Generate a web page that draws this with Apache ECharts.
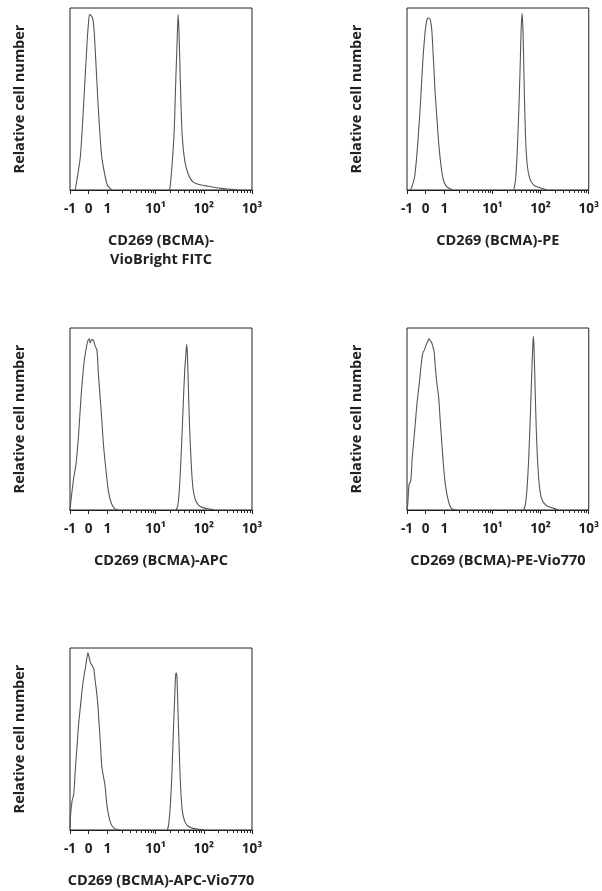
<!DOCTYPE html>
<html>
<head>
<meta charset="utf-8">
<script src="https://cdn.jsdelivr.net/npm/echarts@6/dist/echarts.min.js"></script>
<style>
  html, body { margin: 0; background: #fff; }
  #chart { width: 602px; height: 891px; }
</style>
</head>
<body>
<div id="chart"></div>
<script>
// [intensity, % of max count]
const fitcNeg = [[-0.72,0],[-0.45,18],[-0.31,40],[-0.19,62],[-0.08,82],[0,93],[0.05,96.4],[0.14,95.8],[0.22,94],[0.29,87.6],[0.38,71.2],[0.49,49.3],[0.6,31],[0.7,18.2],[0.85,9.1],[1.0,2.7],[1.23,0]];
const fitcPos = [[19.7,0],[21.3,9.1],[24.2,31],[26.1,58.4],[28,82],[29.3,96.4],[30.7,85.8],[32.7,58.4],[35.5,31],[40.1,16.4],[47.1,9.1],[59.8,4.5],[88.7,2.7],[142,1.8],[229,0.9],[368,0.4],[508,0]];
const peNeg = [[-0.8,0],[-0.59,7.3],[-0.41,27.4],[-0.27,49.3],[-0.15,71.2],[-0.02,87.6],[0.08,94],[0.17,94.5],[0.26,93],[0.33,87.6],[0.42,71.2],[0.51,53],[0.6,40.1],[0.7,25.5],[0.83,12.8],[0.95,5.5],[1.12,1.8],[1.49,0]];
const pePos = [[27.8,0],[30.1,5.5],[32.6,20],[35.3,43.8],[37.6,67.5],[39.4,87.6],[41.3,97.1],[43.3,85.8],[45.5,58.4],[48.4,31],[52.4,14.6],[59.5,6.4],[71.9,2.7],[91.2,1.5],[135.5,0]];
const apcNeg = [[-1,0],[-0.93,6.8],[-0.8,17.7],[-0.68,25],[-0.54,41.5],[-0.4,63.4],[-0.26,79.9],[-0.13,89],[-0.04,93.1],[0.03,94.1],[0.08,91.8],[0.17,93.6],[0.26,93.1],[0.35,89.9],[0.44,88.1],[0.52,74.4],[0.67,54.3],[0.79,36],[0.93,21.4],[1.05,10.4],[1.2,4],[1.4,0.9],[1.69,0]];
const apcPos = [[27,0],[29.2,3.1],[31.6,14.1],[34.2,32.4],[37,54.3],[40.1,76.2],[42.7,86.3],[44.1,90.9],[45.5,86.7],[47.7,68.9],[50.8,45.2],[55,25],[59.5,12.2],[66.5,5.9],[77.8,2.7],[95.7,1.3],[131,0.5],[166,0]];
const pe770Neg = [[-1,0],[-0.96,3.1],[-0.89,14.1],[-0.8,15.9],[-0.72,28.7],[-0.59,43.3],[-0.47,58],[-0.33,70.7],[-0.22,81.7],[-0.15,86.3],[-0.06,88.1],[0.03,90.9],[0.12,92.7],[0.17,94.1],[0.24,93],[0.31,92.3],[0.38,89.9],[0.45,87.2],[0.52,78.1],[0.61,68.9],[0.7,61.6],[0.77,50.6],[0.86,37.8],[0.95,25],[1.05,14.1],[1.17,6.8],[1.31,2.2],[1.49,0.4],[1.74,0]];
const pe770Pos = [[44.7,0],[48.4,3.1],[52.4,12.2],[56.7,28.7],[61.4,52.5],[65.4,74.4],[68.6,89],[70.8,95.4],[73.1,89],[76.6,68.9],[81.6,43.3],[88.3,23.2],[97.2,10.4],[110,4.9],[135.5,2.2],[186,0.9],[236,0]];
const apc770Neg = [[-1,0],[-0.98,6.8],[-0.89,15.9],[-0.8,19.6],[-0.72,32.4],[-0.63,45.2],[-0.54,58],[-0.45,67.1],[-0.36,76.2],[-0.27,83.5],[-0.18,89],[-0.11,93.6],[-0.04,97.3],[0.03,94.5],[0.1,91.8],[0.21,89.9],[0.28,88.1],[0.35,81.7],[0.42,76.2],[0.49,68.9],[0.56,58],[0.63,47],[0.7,35],[0.79,29.5],[0.88,24],[0.95,15.9],[1.05,8.6],[1.2,3.1],[1.4,0.9],[1.83,0]];
const apc770Pos = [[17.6,0],[18.7,3.1],[20.3,14.1],[21.9,32.4],[23.4,54.3],[24.9,72.6],[26.1,85.4],[27,86.3],[27.8,83.5],[29.2,65.3],[31.1,41.5],[33.1,23.2],[35.9,10.4],[40.1,4.9],[46.9,2.2],[59.5,0.9],[81.6,0.4],[103.5,0]];

const tickValues = [-1, 0, 1, 10, 100, 1000];
const tickLabels = ["-1", "0", "1", "10¹", "10²", "10³"];
const minorValues = [2, 3, 4, 5, 6, 7, 8, 9, 20, 30, 40, 50, 60, 70, 80, 90, 200, 300, 400, 500, 600, 700, 800, 900];
const yTitle = "Relative cell number";

// biexponential-ish display: linear from -1 to 1, log above
const K = 2.58;
const biex = v => v <= 1 ? v : 1 + K * Math.log10(v);
const X_MIN = -1, X_MAX = biex(1000);
const SIZE = 182;

const panels = [
  { left: 70,  top: 8,   title: "CD269 (BCMA)-\nVioBright FITC", neg: fitcNeg,   pos: fitcPos },
  { left: 407, top: 8,   title: "CD269 (BCMA)-PE",               neg: peNeg,     pos: pePos },
  { left: 70,  top: 328, title: "CD269 (BCMA)-APC",              neg: apcNeg,    pos: apcPos },
  { left: 407, top: 328, title: "CD269 (BCMA)-PE-Vio770",        neg: pe770Neg,  pos: pe770Pos },
  { left: 70,  top: 648, title: "CD269 (BCMA)-APC-Vio770",       neg: apc770Neg, pos: apc770Pos }
];

const FONT = "Open Sans";
const INK = "#222";
const grid = [], xAxis = [], yAxis = [], series = [];

panels.forEach((p, i) => {
  grid.push({ left: p.left, top: p.top, width: SIZE, height: SIZE,
    show: true, borderColor: INK, borderWidth: 1 });
  xAxis.push({
    type: "value", gridIndex: i, min: X_MIN, max: X_MAX, position: "bottom",
    name: p.title, nameLocation: "middle", nameGap: 41,
    nameTextStyle: { fontFamily: FONT, fontSize: 14.5, fontWeight: "bold", color: INK, lineHeight: 19 },
    axisLine: { onZero: false, lineStyle: { color: INK, width: 1 } },
    splitLine: { show: false },
    axisTick: { show: true, customValues: tickValues.map(biex), length: 4, lineStyle: { color: INK } },
    axisLabel: {
      customValues: tickValues.map(biex), margin: 12,
      fontFamily: FONT, fontSize: 13.5, fontWeight: "bold", color: INK,
      formatter: val => {
        const k = tickValues.findIndex(t => Math.abs(biex(t) - val) < 1e-6);
        return k >= 0 ? tickLabels[k] : "";
      }
    }
  });
  // minor log ticks: a top axis shifted down onto the bottom edge
  xAxis.push({
    type: "value", gridIndex: i, min: X_MIN, max: X_MAX, position: "top", offset: -SIZE,
    axisLine: { show: false, onZero: false },
    splitLine: { show: false },
    axisLabel: { show: false },
    axisTick: { show: true, inside: true, customValues: minorValues.map(biex), length: 3, lineStyle: { color: INK, width: 1 } }
  });
  yAxis.push({
    type: "value", gridIndex: i, min: 0, max: 100,
    name: yTitle, nameLocation: "middle", nameGap: 43,
    nameTextStyle: { fontFamily: FONT, fontSize: 14.5, fontWeight: "bold", color: INK },
    axisLine: { show: false }, axisTick: { show: false },
    axisLabel: { show: false }, splitLine: { show: false }
  });
  [p.neg, p.pos].forEach(d => series.push({
    type: "line", xAxisIndex: 2 * i, yAxisIndex: i,
    data: d.map(([v, c]) => [biex(v), c]),
    showSymbol: false, smooth: 0.25, silent: true,
    lineStyle: { color: "#555", width: 1.1 }
  }));
});

const chart = echarts.init(document.getElementById("chart"));
chart.setOption({ animation: false, grid, xAxis, yAxis, series });
</script>
</body>
</html>
